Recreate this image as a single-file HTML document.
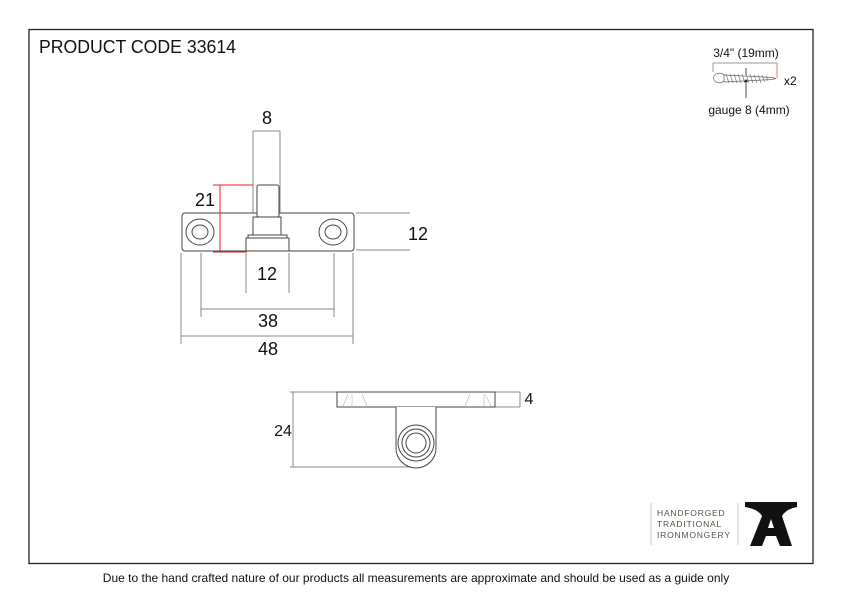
<!DOCTYPE html>
<html><head><meta charset="utf-8"><style>
html,body{margin:0;padding:0;background:#fff;}
svg{display:block;}
text{font-family:"Liberation Sans",sans-serif;}
</style></head><body>
<svg width="842" height="596" viewBox="0 0 842 596" xmlns="http://www.w3.org/2000/svg">
<rect x="29" y="29.5" width="784" height="534" fill="none" stroke="#222" stroke-width="1.3"/>
<text x="39" y="53" font-size="18.5" fill="#111" textLength="197" lengthAdjust="spacingAndGlyphs">PRODUCT CODE  33614</text>

<!-- screw -->
<text x="746" y="57" font-size="12" text-anchor="middle" fill="#111">3/4" (19mm)</text>
<line x1="713" y1="63" x2="777" y2="63" stroke="#999"/>
<line x1="713" y1="63" x2="713" y2="72" stroke="#999"/>
<line x1="777" y1="63" x2="777" y2="78" stroke="#e77"/>
<path d="M716,74 q-5,4 0,8 q4,2 8,-1 l0,-6 q-4,-3 -8,-1z" fill="none" stroke="#777" stroke-width="0.8"/>
<path d="M724,75 l48,2.5 l4,1 l-4,1 l-48,2.5" fill="none" stroke="#666" stroke-width="0.8"/>
<path d="M726,74 l3,9 M730,74 l3,9 M734,74 l3,9 M738,74 l3,9 M742,74 l3,9 M746,74 l3,9 M750,74 l3,9 M754,75 l3,8 M758,75 l3,8 M762,75 l3,7 M766,76 l2,5" stroke="#777" stroke-width="0.7"/>
<line x1="746" y1="68" x2="746" y2="75" stroke="#222" stroke-width="0.8"/>
<line x1="746" y1="82" x2="746" y2="98" stroke="#222" stroke-width="0.8"/>
<path d="M744,82 l2,-3 l2,3z" fill="#222"/>
<text x="784" y="85" font-size="12" fill="#111">x2</text>
<text x="749" y="114" font-size="12" text-anchor="middle" fill="#111">gauge 8 (4mm)</text>

<!-- top view -->
<g stroke="#888" stroke-width="1" fill="none">
<line x1="253" y1="131" x2="280" y2="131"/>
<line x1="253" y1="131" x2="253" y2="213"/>
<line x1="280" y1="131" x2="280" y2="213"/>
<line x1="356" y1="213" x2="410" y2="213"/>
<line x1="356" y1="250" x2="410" y2="250"/>
<line x1="246" y1="253" x2="246" y2="293"/>
<line x1="289" y1="253" x2="289" y2="293"/>
<line x1="201" y1="253" x2="201" y2="317"/>
<line x1="334" y1="253" x2="334" y2="317"/>
<line x1="201" y1="309" x2="334" y2="309"/>
<line x1="181" y1="253" x2="181" y2="344"/>
<line x1="353" y1="253" x2="353" y2="344"/>
<line x1="181" y1="336" x2="353" y2="336"/>
</g>
<g stroke="#444" stroke-width="1" fill="#fff">
<rect x="182" y="213" width="172" height="38" rx="3"/>
<ellipse cx="200" cy="232" rx="14" ry="13"/>
<ellipse cx="200" cy="232" rx="8" ry="7"/>
<ellipse cx="333" cy="232" rx="14" ry="13"/>
<ellipse cx="333" cy="232" rx="8" ry="7"/>
<rect x="246" y="238" width="43" height="13"/>
<rect x="248" y="235" width="39" height="3"/>
<rect x="253" y="217" width="28" height="18"/>
<rect x="257" y="185" width="22" height="32" rx="2"/>
</g>
<g stroke="#e22" stroke-width="1">
<line x1="213" y1="185" x2="253" y2="185"/>
<line x1="213" y1="252" x2="247" y2="252"/>
<line x1="220" y1="185" x2="220" y2="252"/>
</g>
<g font-size="18" fill="#111" text-anchor="middle">
<text x="267" y="124">8</text>
<text x="205" y="206">21</text>
<text x="418" y="240">12</text>
<text x="267" y="280">12</text>
<text x="268" y="327">38</text>
<text x="268" y="355">48</text>
</g>

<!-- side view -->
<g stroke="#888" stroke-width="1" fill="none">
<line x1="290" y1="392" x2="337" y2="392"/>
<line x1="290" y1="467" x2="410" y2="467"/>
<line x1="293" y1="392" x2="293" y2="467"/>
<line x1="495" y1="392" x2="520" y2="392"/>
<line x1="495" y1="407" x2="520" y2="407"/>
<line x1="520" y1="392" x2="520" y2="407"/>
</g>
<g stroke="#444" stroke-width="1" fill="#fff">
<rect x="337" y="392" width="158" height="15"/>
<path d="M396,407 L396,448 A20,20 0 0 0 436,448 L436,407"/>
<circle cx="416" cy="443" r="18"/>
<circle cx="416" cy="443" r="14"/>
<circle cx="416" cy="443" r="10"/>
</g>
<g stroke="#bbb" stroke-width="0.7">
<line x1="348" y1="394" x2="343" y2="406"/><line x1="352" y1="394" x2="352" y2="406"/>
<line x1="362" y1="394" x2="367" y2="406"/>
<line x1="470" y1="394" x2="465" y2="406"/><line x1="484" y1="394" x2="484" y2="406"/>
<line x1="485" y1="394" x2="491" y2="406"/>
</g>
<text x="283" y="436" font-size="16" text-anchor="middle" fill="#111">24</text>
<text x="529" y="404" font-size="16" text-anchor="middle" fill="#111">4</text>

<!-- logo -->
<line x1="651" y1="503" x2="651" y2="545" stroke="#ccc"/>
<line x1="738" y1="503" x2="738" y2="545" stroke="#ccc"/>
<g font-family="Liberation Serif,serif" font-size="8.5" fill="#5a5046" letter-spacing="0.8">
<text x="657" y="516">HANDFORGED</text>
<text x="657" y="527">TRADITIONAL</text>
<text x="657" y="538">IRONMONGERY</text>
</g>
<path d="M745,502 L797,502 L797,507 Q786,509 782,516 L792,546 L780,546 L776,536 L766,536 L762,546 L750,546 L762,516 Q758,509 745,507Z M768,528 L774,528 L771,519Z" fill="#111" fill-rule="evenodd"/>

<text x="416" y="582" font-size="12" text-anchor="middle" fill="#111">Due to the hand crafted nature of our products all measurements are approximate and should be used as a guide only</text>
</svg>
</body></html>
